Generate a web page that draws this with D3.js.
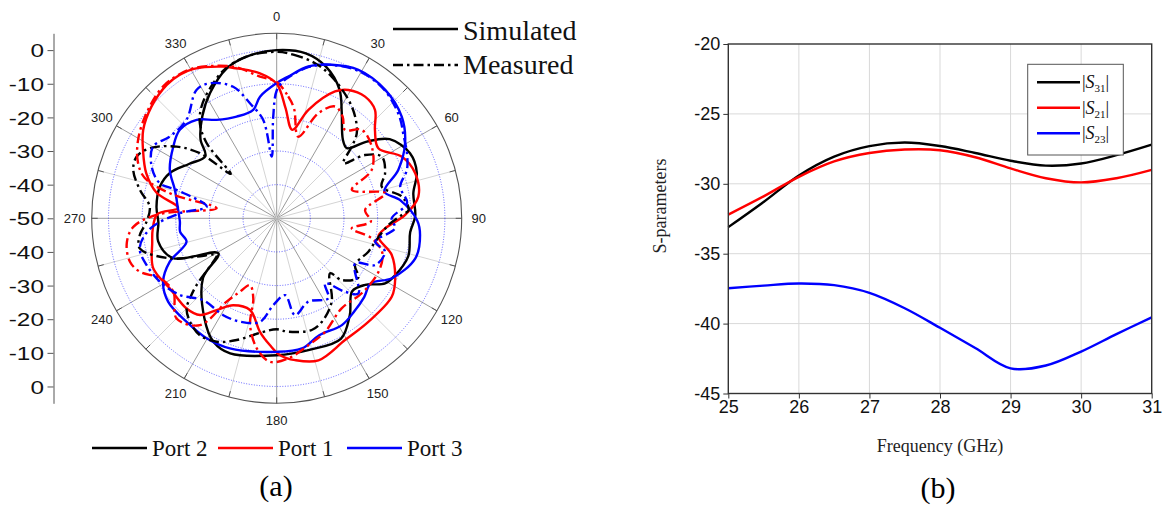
<!DOCTYPE html>
<html>
<head>
<meta charset="utf-8">
<script src="https://cdn.jsdelivr.net/npm/d3@7"></script>
<style>
  body { margin: 0; background: #fff; }
  svg { display: block; }
</style>
</head>
<body>
<script>
// ---- polar data (angle in degrees, level in dB) ----
const port2Sim = [[0,0],[10,-0.2],[18,-2.6],[26,-7.4],[31.5,-13],[40,-19.4],[45,-20.5],[49.6,-14.8],[55,-9],[64,-5.9],[72,-6.2],[79.6,-8.7],[89,-8.8],[96,-10.1],[106,-9.3],[116,-11],[121,-12.4],[127,-17.1],[134,-18.8],[143,-13.9],[152,-9.4],[166,-9.7],[180,-9.3],[199,-7.5],[207,-8.7],[216,-13.4],[231,-21.8],[239,-29.8],[249,-17],[259,-14.1],[268,-14.8],[275.5,-14.1],[285,-14],[293,-15.5],[302,-19.4],[311,-21.9],[316,-17.4],[324,-12.4],[332,-7.8],[341.6,-3],[349.5,-1.1]];
const port1Sim = [[0,-10],[4.5,-17],[10,-23.3],[16.3,-16.4],[24.7,-8.5],[29.2,-6.3],[36,-5.3],[42.2,-6.5],[48,-10.7],[55.4,-13.3],[63.8,-8.5],[72,-6.7],[81.3,-7.4],[88.5,-11.8],[95.3,-17.6],[100.3,-19.3],[107.7,-14.1],[116.9,-10.5],[124.3,-8.6],[138.5,-8.9],[150.7,-8.5],[163.6,-6],[172.6,-7.5],[178.6,-9.3],[183,-12.2],[188.4,-15.9],[196.2,-21.6],[206.6,-21.1],[213.2,-17.4],[218.4,-13.3],[225,-12.1],[236.7,-12],[248,-10.4],[259,-12.3],[265,-13],[272,-14.5],[276,-20.5],[282,-13.5],[289,-9],[297,-5.4],[303.5,-2.4],[311.8,-0.1],[320.5,1.4],[326,1.5],[331,0.8],[340.6,-2.2],[344,-3.5],[353.4,-6.6]];
const port3Sim = [[0,-9.8],[4.7,-7.7],[11.8,-3.9],[19.7,-1.5],[28.8,0.4],[40.2,0],[50.9,-2.1],[59.7,-5.8],[68.3,-11.1],[76,-17],[81.6,-12.9],[90.7,-8.3],[96.6,-7.1],[106.1,-7.1],[117.5,-11.4],[124.7,-16],[132,-15],[140,-14],[148.6,-12.8],[160,-13],[169,-10.6],[180,-10.3],[199.8,-8.9],[210.3,-8.7],[221,-9.2],[232.4,-9.3],[240.8,-11.3],[247.9,-15.7],[255.4,-22.3],[262,-21],[268,-21.2],[274.8,-20.6],[285.5,-18.6],[294.4,-15.1],[304.7,-12.6],[312.4,-11],[320.9,-12.3],[328.6,-15.7],[338.5,-17.5],[347.8,-17],[352.2,-13.5]];
const port2Meas = [[0,-0.5],[5.8,-1.1],[13.9,-2.5],[21.2,-4.8],[31.2,-8.8],[37.6,-11.8],[43.3,-15.3],[46.3,-19.1],[50.5,-24.3],[54.4,-17.7],[59.6,-13.8],[67.4,-15.1],[73.2,-17.4],[80.2,-12.2],[86.4,-10.7],[88.5,-12.8],[93.4,-16.7],[103.4,-19.9],[110,-21],[120.8,-22.9],[126,-20],[133.5,-23.3],[135.9,-27.2],[146.6,-20.3],[156.5,-16.4],[162.6,-15.2],[174.2,-16.1],[180,-17],[186.7,-16],[198.2,-11.9],[205.9,-9.2],[213.3,-8.4],[220,-9.9],[225,-12.1],[227.3,-14.9],[230.2,-19],[235.6,-27.1],[238.5,-29.1],[244.4,-23.6],[249.4,-16.1],[257.6,-8.3],[263,-9],[268.5,-11.3],[275.2,-12.1],[281.7,-8.5],[288.6,-5],[293.7,-4.5],[298.9,-6.9],[305.6,-13.4],[310.3,-20.1],[314,-31],[317,-19.5],[321,-13.7],[326,-10],[333,-6.5],[341,-3],[350,-1]];
const port1Meas = [[0,-9.5],[5.4,-13.6],[9,-17],[14.8,-24.9],[21.6,-16.4],[27.6,-12.5],[33,-14],[37.7,-16.8],[43.9,-13.5],[53,-14.6],[63,-18.3],[69.3,-26.1],[77,-16.9],[84.6,-23.6],[92,-22],[97.6,-27.5],[101.9,-21.1],[108,-17],[117.7,-15.8],[131.4,-16.3],[144.2,-17],[156.9,-13.3],[166,-11.1],[175.3,-8.2],[182.7,-7.3],[188.7,-10.9],[194,-17.3],[196.3,-25.2],[201.8,-28.6],[206.6,-25.6],[211,-21.1],[215.7,-10.9],[225,-7.9],[234.6,-12.3],[242.8,-11],[248.7,-6.3],[253.5,-4.5],[260.5,-4.8],[266.6,-7.3],[272,-15],[279.5,-31.9],[283,-18],[287,-9],[292,-5.5],[300,-2.5],[310,0],[320,1.8],[330,1.2],[337,-0.8],[345,-3.5],[353.3,-7.6]];
const port3Meas = [[0,-12],[3,-9],[5,-7.8],[12,-4],[20,-1.5],[30,0.2],[40,-0.2],[50,-2.5],[57,-5],[63.4,-6.7],[69.6,-8.7],[75.6,-12.1],[83.4,-11],[90,-15.8],[94.8,-14.7],[103.4,-19.9],[107.1,-16.3],[115.4,-17.6],[119.9,-23.1],[132.6,-17],[137.1,-20.2],[143.4,-25.9],[147.2,-21.7],[159.2,-23.5],[169.3,-20.7],[173.8,-27],[182.2,-24.2],[189.2,-18.8],[199.5,-17.4],[208.9,-17.1],[221.9,-17.3],[231.6,-13.3],[241.5,-10.5],[250.2,-8.9],[257.6,-8.3],[265,-12],[273,-21.2],[279.4,-28.9],[285.8,-19.1],[286.7,-13.7],[292.4,-9.8],[300.1,-7.5],[307.4,-10],[317.5,-10.3],[328,-5],[333.7,-5.2],[341.7,-8.8],[346.9,-14.9],[352.2,-20.5],[355.4,-31.6],[358,-20]];

const radialTicks = [-50, -40, -30, -20, -10, 0];
const angleTicks = [0, 30, 60, 90, 120, 150, 180, 210, 240, 270, 300, 330];
const portNames = ["Port 2", "Port 1", "Port 3"];

// ---- S-parameter data ----
const freq = [25, 25.5, 26, 26.5, 27, 27.5, 28, 28.5, 29, 29.5, 30, 30.5, 31];
const s31 = [-33.1, -31.3, -29.4, -28.05, -27.3, -27.05, -27.3, -27.8, -28.35, -28.7, -28.55, -27.95, -27.2];
const s21 = [-32.2, -30.9, -29.5, -28.4, -27.8, -27.55, -27.6, -28.1, -28.9, -29.6, -29.9, -29.6, -29.0];
const s23 = [-37.47, -37.28, -37.13, -37.25, -37.8, -38.9, -40.3, -41.75, -43.2, -43.0, -42.0, -40.75, -39.55];
const freqTicks = [25, 26, 27, 28, 29, 30, 31];
const sTicks = [-45, -40, -35, -30, -25, -20];

const W = 1169, H = 507;
const sans = "'Liberation Sans', Arial, sans-serif";
const serif = "'Liberation Serif', 'Times New Roman', serif";
const dashDot = "10,4,2.5,4";
const plain = d => String(d);   // keep the ascii hyphen as minus sign

const svg = d3.select("body").append("svg")
    .attr("width", W)
    .attr("height", H);

// ================= (a) polar plot =================
let cx = 276.7, cy = 218.3, R = 185;
const r = d3.scaleLinear().domain([-50, 5]).range([0, R]);
const rad = d => d * Math.PI / 180;

const polar = svg.append("g").attr("transform", `translate(${cx},${cy})`);

// spokes every 15 deg
d3.range(0, 360, 15).forEach(a => {
    const major = a % 30 === 0;
    polar.append("line")
        .attr("x1", 0).attr("y1", 0)
        .attr("x2", R * Math.sin(rad(a)))
        .attr("y2", -R * Math.cos(rad(a)))
        .attr("stroke", major ? "#9a9a9a" : "#d4d4d4")
        .attr("stroke-width", 1);
    // little tick on outer ring
    polar.append("line")
        .attr("x1", (R - 6) * Math.sin(rad(a)))
        .attr("y1", -(R - 6) * Math.cos(rad(a)))
        .attr("x2", R * Math.sin(rad(a)))
        .attr("y2", -R * Math.cos(rad(a)))
        .attr("stroke", "#555")
        .attr("stroke-width", 1);
});

// dotted blue level circles
polar.selectAll("circle.lvl")
    .data(radialTicks.slice(1))
    .enter()
    .append("circle")
    .attr("class", "lvl")
    .attr("r", d => r(d))
    .attr("fill", "none")
    .attr("stroke", "#3b3bff")
    .attr("stroke-width", 0.8)
    .attr("stroke-dasharray", "1,1.6");

polar.append("circle")
    .attr("r", R)
    .attr("fill", "none")
    .attr("stroke", "#555")
    .attr("stroke-width", 1.1);

// angle labels
polar.selectAll("text.ang")
    .data(angleTicks)
    .enter()
    .append("text")
    .attr("class", "ang")
    .attr("x", d => 202 * Math.sin(rad(d)))
    .attr("y", d => -202 * Math.cos(rad(d)))
    .attr("text-anchor", "middle")
    .attr("dominant-baseline", "central")
    .attr("font-family", sans)
    .attr("font-size", 13)
    .attr("fill", "#222")
    .text(d => d);

// traces
const radial = d3.lineRadial()
    .angle(d => rad(d[0]))
    .radius(d => r(d[1]))
    .curve(d3.curveCatmullRomClosed.alpha(0.5));

const traces = [
    {data: port2Sim, color: "#000000", dash: null},
    {data: port1Sim, color: "#ff0000", dash: null},
    {data: port3Sim, color: "#0000ff", dash: null},
    {data: port2Meas, color: "#000000", dash: dashDot},
    {data: port1Meas, color: "#ff0000", dash: dashDot},
    {data: port3Meas, color: "#0000ff", dash: dashDot}
];

traces.forEach(t => {
    polar.append("path")
        .attr("d", radial(t.data))
        .attr("fill", "none")
        .attr("stroke", t.color)
        .attr("stroke-width", 2.4)
        .attr("stroke-linejoin", "round")
        .attr("stroke-dasharray", t.dash);
});

// left radial axis (mirrored)
const axX = 53.5;
const yTop = d3.scaleLinear().domain([-50, 5]).range([cy, cy - R]);
const yBot = d3.scaleLinear().domain([-50, 5]).range([cy, cy + R]);

function radialAxis(scale, ticks) {
    const g = svg.append("g")
        .attr("transform", `translate(${axX},0)`)
        .call(d3.axisLeft(scale).tickValues(ticks).tickSize(6).tickSizeOuter(0).tickFormat(plain));
    g.select(".domain").attr("stroke", "#555");
    g.selectAll(".tick line").attr("stroke", "#555");
    g.selectAll(".tick text")
        .attr("x", -7.5)
        .attr("dy", "0.35em")
        .attr("transform", "scale(1.28,1)")
        .attr("font-family", sans)
        .attr("font-size", 19)
        .attr("fill", "#111");
}
radialAxis(yTop, radialTicks);
radialAxis(yBot, radialTicks.slice(1));

// top legend
const lineStyle = [["Simulated", null, 29, 40], ["Measured", dashDot, 65, 74]];
lineStyle.forEach(([label, dash, ly, ty]) => {
    svg.append("line")
        .attr("x1", 393).attr("x2", 458)
        .attr("y1", ly).attr("y2", ly)
        .attr("stroke", "#000")
        .attr("stroke-width", 2.6)
        .attr("stroke-dasharray", dash);
    svg.append("text")
        .attr("x", 463).attr("y", ty)
        .attr("font-family", serif)
        .attr("font-size", 28)
        .attr("fill", "#111")
        .text(label);
});

// bottom legend
const portColors = ["#000000", "#ff0000", "#0000ff"];
const portX = [92, 218, 347];
portNames.forEach((name, i) => {
    svg.append("line")
        .attr("x1", portX[i]).attr("x2", portX[i] + 55)
        .attr("y1", 448).attr("y2", 448)
        .attr("stroke", portColors[i])
        .attr("stroke-width", 2.6);
    svg.append("text")
        .attr("x", portX[i] + 60).attr("y", 456)
        .attr("font-family", serif)
        .attr("font-size", 23)
        .attr("fill", "#111")
        .text(name);
});

svg.append("text")
    .attr("x", 276).attr("y", 496)
    .attr("text-anchor", "middle")
    .attr("font-family", serif)
    .attr("font-size", 30)
    .text("(a)");

// ================= (b) S-parameters =================
const x = d3.scaleLinear().domain([25, 31]).range([728.3, 1151.7]);
const y = d3.scaleLinear().domain([-45, -20]).range([393.5, 44]);

const plot = svg.append("g");

// grid
plot.selectAll("line.gx")
    .data(freqTicks.slice(1, -1))
    .enter()
    .append("line")
    .attr("x1", d => x(d)).attr("x2", d => x(d))
    .attr("y1", y(-20)).attr("y2", y(-45))
    .attr("stroke", "#d9d9d9");
plot.selectAll("line.gy")
    .data(sTicks.slice(1, -1))
    .enter()
    .append("line")
    .attr("x1", x(25)).attr("x2", x(31))
    .attr("y1", d => y(d)).attr("y2", d => y(d))
    .attr("stroke", "#d9d9d9");

const sLine = vals => d3.line()
    .x((d, i) => x(freq[i]))
    .y(d => y(d))
    .curve(d3.curveCatmullRom.alpha(0.5))(vals);

[[s31, "#000000"], [s21, "#ff0000"], [s23, "#0000ff"]].forEach(([vals, c]) => {
    plot.append("path")
        .attr("d", sLine(vals))
        .attr("fill", "none")
        .attr("stroke", c)
        .attr("stroke-width", 2.4);
});

// frame
plot.append("rect")
    .attr("x", x(25)).attr("y", y(-20))
    .attr("width", x(31) - x(25))
    .attr("height", y(-45) - y(-20))
    .attr("fill", "none")
    .attr("stroke", "#333")
    .attr("stroke-width", 1.4);

const xAxis = svg.append("g")
    .attr("transform", `translate(0,${y(-45)})`)
    .call(d3.axisBottom(x).tickValues(freqTicks).tickSize(5).tickPadding(2).tickFormat(plain));
const yAxis = svg.append("g")
    .attr("transform", `translate(${x(25)},0)`)
    .call(d3.axisLeft(y).tickValues(sTicks).tickSize(5).tickPadding(3).tickFormat(plain));
[xAxis, yAxis].forEach(g => {
    g.select(".domain").remove();
    g.selectAll(".tick line").attr("stroke", "#333");
    g.selectAll(".tick text")
        .attr("font-family", sans)
        .attr("font-size", 18)
        .attr("fill", "#111");
});

svg.append("text")
    .attr("x", 940).attr("y", 452)
    .attr("text-anchor", "middle")
    .attr("font-family", serif)
    .attr("font-size", 18)
    .attr("fill", "#222")
    .text("Frequency (GHz)");

svg.append("text")
    .attr("transform", "translate(666,206) rotate(-90)")
    .attr("text-anchor", "middle")
    .attr("font-family", serif)
    .attr("font-size", 18)
    .attr("fill", "#222")
    .text("S-parameters");

svg.append("text")
    .attr("x", 938).attr("y", 498)
    .attr("text-anchor", "middle")
    .attr("font-family", serif)
    .attr("font-size", 30)
    .text("(b)");

// legend box
const legendNames = [["31", "#000000"], ["21", "#ff0000"], ["23", "#0000ff"]];
svg.append("rect")
    .attr("x", 1027.7).attr("y", 64.3)
    .attr("width", 95.6).attr("height", 90.7)
    .attr("fill", "#fff")
    .attr("stroke", "#555")
    .attr("stroke-width", 1);
legendNames.forEach(([sub, c], i) => {
    const ly = 82.3 + i * 25.5;
    svg.append("line")
        .attr("x1", 1037).attr("x2", 1080)
        .attr("y1", ly).attr("y2", ly)
        .attr("stroke", c)
        .attr("stroke-width", 2.4);
    const t = svg.append("text")
        .attr("x", 1082).attr("y", ly + 6)
        .attr("font-family", serif)
        .attr("font-size", 18)
        .attr("fill", "#111");
    t.append("tspan").text("|");
    t.append("tspan").attr("font-style", "italic").text("S");
    t.append("tspan").attr("font-size", 11).attr("dy", 4).text(sub);
    t.append("tspan").attr("dy", -4).text("|");
});
</script>
</body>
</html>
